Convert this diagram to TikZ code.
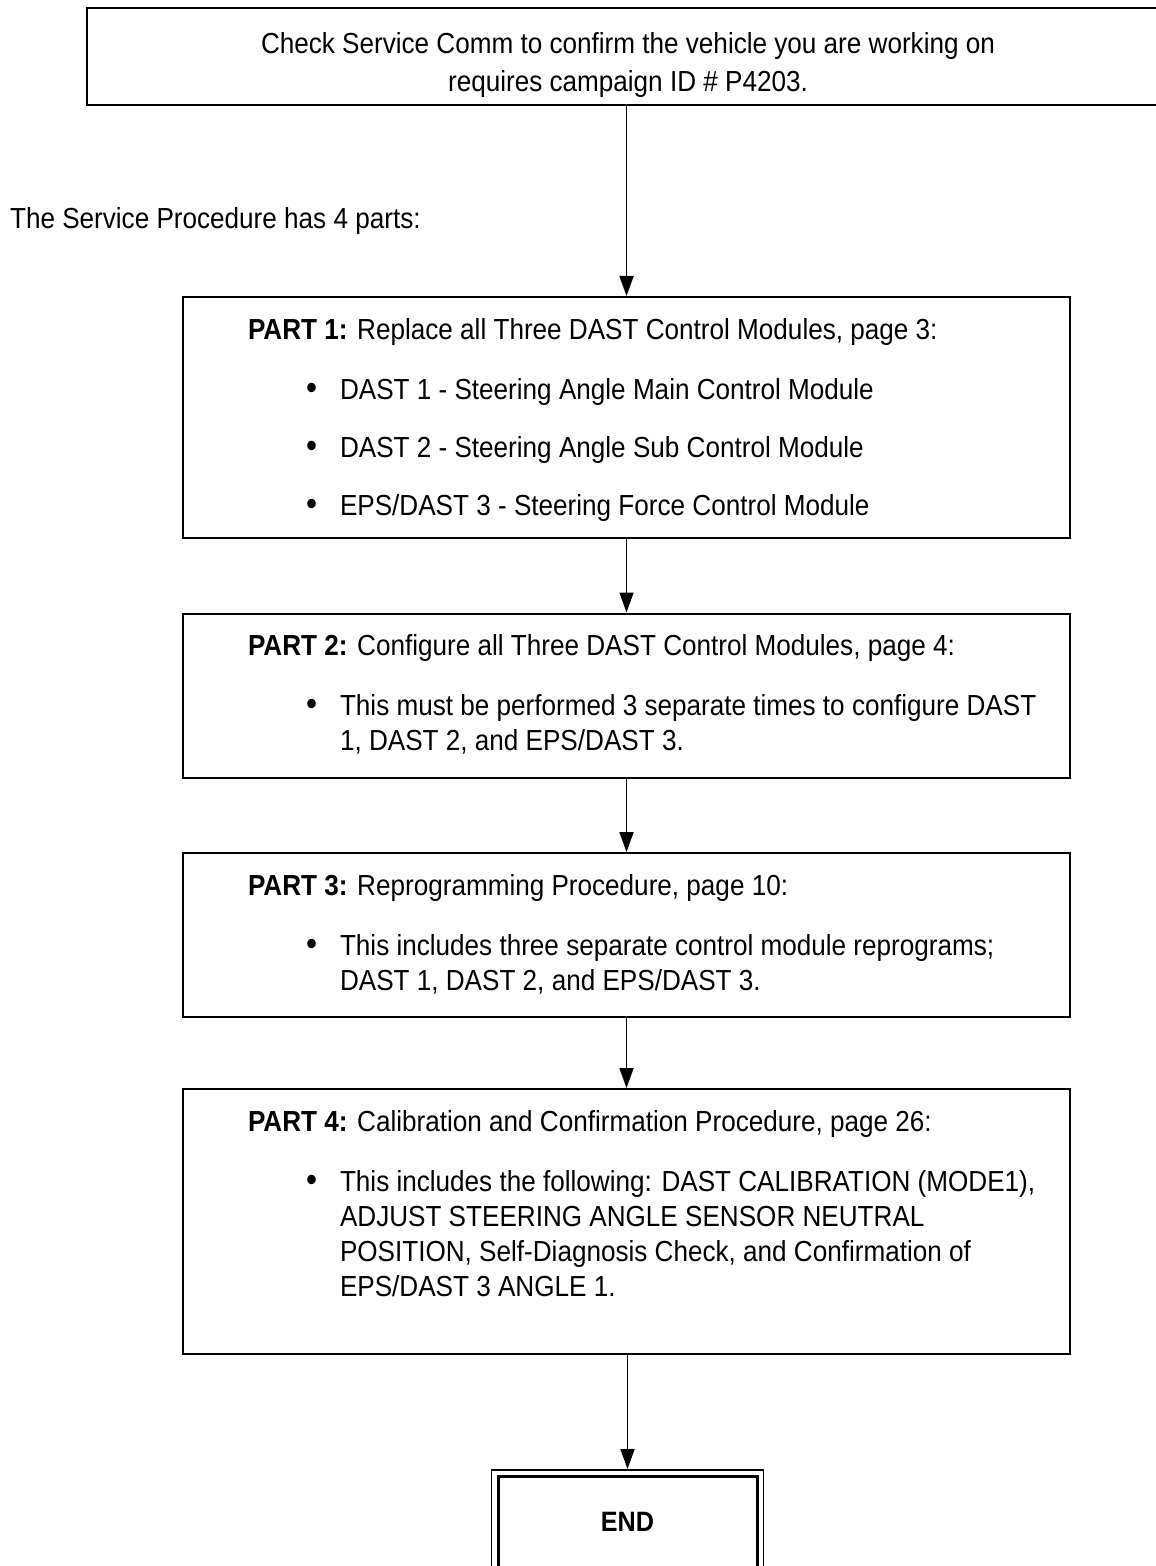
\documentclass[tikz,border=0pt]{standalone}
\usepackage{fontspec}
\usepackage{graphicx}
\setmainfont[FakeStretch=0.9]{Liberation Sans}
\usetikzlibrary{positioning,arrows.meta}

% box body: fixed height, text hung from the top
\newcommand{\partbody}[2]{\parbox[c][#1][t]{378.5pt}{\vspace*{10.6pt}#2}}
\newcommand{\bitem}[2][12.5pt]{\par\vspace{#1}\makebox[\linewidth][l]{\hspace*{29pt}\makebox[17pt][l]{\scalebox{1.2}{\textbullet}}\parbox[t]{360pt}{\raggedright #2}}}

\begin{document}
\begin{tikzpicture}[x=0.5pt,y=-0.5pt,
    partbox/.style={draw, line width=1pt, anchor=north, inner xsep=32.5pt, inner ysep=0pt,
      font=\fontsize{14.5pt}{17.5pt}\selectfont},
    flow/.style={line width=0.9pt, -{Triangle[length=10pt,width=7pt]}}]
    \useasboundingbox (0,0) rectangle (1155,1566);

    \node[draw, line width=1pt, minimum width=541pt, minimum height=48.5pt] (checkbox) at (628,56.5) {};
    \node[align=center, anchor=north, inner sep=0pt, font=\fontsize{14.5pt}{19pt}\selectfont] (check) at (628,32)
      {Check Service Comm to confirm the vehicle you are working on\\requires campaign ID \# P4203.};
    \node[anchor=west, font=\fontsize{14.5pt}{17.5pt}\selectfont] (parts) at (3,221) {The Service Procedure has 4 parts:};

    \node[partbox] (part1) at (626.5,296)
      {\partbody{120.5pt}{\textbf{PART 1:} Replace all Three DAST Control Modules, page 3:
       \bitem{DAST 1 - Steering Angle Main Control Module}
       \bitem[11.5pt]{DAST 2 - Steering Angle Sub Control Module}
       \bitem[11.5pt]{EPS/DAST 3 - Steering Force Control Module}}};
    \node[partbox] (part2) at (626.5,612.5)
      {\partbody{82pt}{\textbf{PART 2:} Configure all Three DAST Control Modules, page 4:
       \bitem{This must be performed 3 separate times to configure DAST\\
         1, DAST 2, and EPS/DAST 3.}}};
    \node[partbox] (part3) at (626.5,852)
      {\partbody{82pt}{\textbf{PART 3:} Reprogramming Procedure, page 10:
       \bitem{This includes three separate control module reprograms;\\
         DAST 1, DAST 2, and EPS/DAST 3.}}};
    \node[partbox] (part4) at (626.5,1088)
      {\partbody{132.5pt}{\textbf{PART 4:} Calibration and Confirmation Procedure, page 26:
       \bitem{This includes the following: DAST CALIBRATION (MODE1),\\
         ADJUST STEERING ANGLE SENSOR NEUTRAL\\
         POSITION, Self-Diagnosis Check, and Confirmation of\\
         EPS/DAST 3 ANGLE 1.}}};

    \node[draw, line width=1.5pt, anchor=north, minimum width=129.5pt, minimum height=60pt,
      font=\fontsize{14pt}{16pt}\selectfont\bfseries, text depth=15pt] (finish) at (627.5,1475) {END};
    \draw[line width=0.8pt] ([shift={(-5,-5)}]finish.north west) rectangle ([shift={(5,5)}]finish.south east);

    \draw[flow] (checkbox.south -| part1.north) -- (part1.north);
    \draw[flow] (part1) -- (part2);
    \draw[flow] (part2) -- (part3);
    \draw[flow] (part3) -- (part4);
    \draw[flow] (part4.south -| finish.north) -- ([yshift=3pt]finish.north);
  \end{tikzpicture}
\end{document}
